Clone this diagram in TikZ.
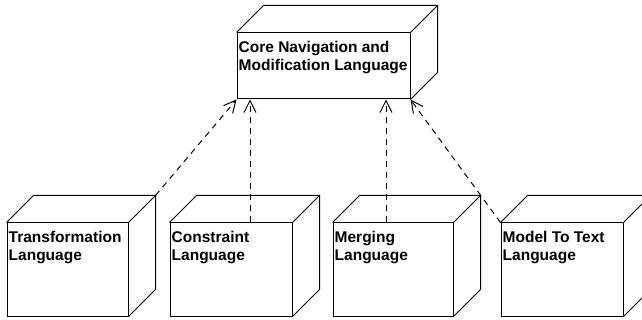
\documentclass[tikz,border=0pt]{standalone}
\usepackage{fontspec}
\setmainfont{Liberation Sans}
\usetikzlibrary{arrows.meta,calc}

\tikzset{
  face/.style={draw, line width=1pt, inner sep=0pt},
  boxtext/.style={anchor=north west, align=left, inner sep=0pt,
    font=\fontsize{15.5}{18}\selectfont\bfseries},
  dep/.style={line width=1pt, dash pattern=on 6pt off 5pt,
    -{Straight Barb[length=12pt,width=12pt,line width=1pt]}},
}

% 3D depth of a node box: top face and right face
\newcommand{\cubedepth}[2]{%
  \draw[line width=1pt] (#1.north west) -- ++(#2,-#2)
    -- ($(#1.north east)+(#2,-#2)$) -- ($(#1.south east)+(#2,-#2)$)
    -- (#1.south east);
  \draw[line width=1pt] (#1.north east) -- ++(#2,-#2);
}

\begin{document}
\begin{tikzpicture}[x=1pt,y=-1pt]
  \useasboundingbox (0,0) rectangle (642,320);
  \clip (0,0) rectangle (642,320);

  % front faces
  \node[face, minimum width=173pt, minimum height=66pt] (core) at (323.5,66) {};
  \node[face, minimum width=121pt, minimum height=93pt] (trans) at (67.5,269.5) {};
  \node[face, minimum width=122pt, minimum height=93pt] (cons) at (231,269.5) {};
  \node[face, minimum width=120pt, minimum height=93pt] (merge) at (393,269.5) {};
  \node[face, minimum width=122pt, minimum height=93pt] (m2t) at (562,269.5) {};

  % depth
  \cubedepth{core}{27}
  \cubedepth{trans}{27}
  \cubedepth{cons}{27}
  \cubedepth{merge}{27}
  \cubedepth{m2t}{27}

  % labels
  \node[boxtext] (coretxt) at ($(core.north west)+(2,9)$) {Core Navigation and\\Modification Language};
  \node[boxtext] (transtxt) at ($(trans.north west)+(2,9)$) {Transformation\\Language};
  \node[boxtext] (constxt) at ($(cons.north west)+(2,9)$) {Constraint\\Language};
  \node[boxtext] (mergetxt) at ($(merge.north west)+(2,9)$) {Merging\\Language};
  \node[boxtext] (m2ttxt) at ($(m2t.north west)+(2,9)$) {Model To Text\\Language};

  % dependencies
  \coordinate (transcorner) at ($(trans.north east)+(27,-27)$);
  \coordinate (consfoot) at ($(cons.north)+(19,0)$);
  \coordinate (mergefoot) at ($(merge.north)+(-7,0)$);

  \draw[dep] (transcorner) -- (core.south west);
  \draw[dep] (consfoot) -- (consfoot |- core.south);
  \draw[dep] (mergefoot) -- (mergefoot |- core.south);
  \draw[dep] (m2t.north west) -- (core.south east);
\end{tikzpicture}
\end{document}
